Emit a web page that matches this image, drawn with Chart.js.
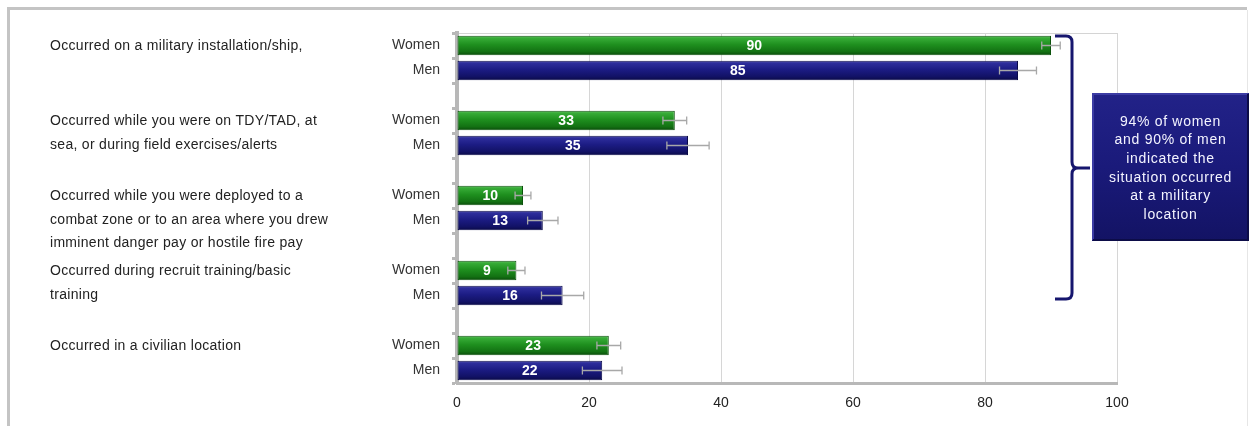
<!DOCTYPE html>
<html>
<head>
<meta charset="utf-8">
<script src="https://cdn.jsdelivr.net/npm/chart.js@4"></script>
<style>
  body { margin: 0; background: #fff; }
  canvas { display: block; }
</style>
</head>
<body>
<canvas id="barChart" width="1250" height="426"></canvas>
<script>
// survey data
const categories = [
  ['Occurred on a military installation/ship,'],
  ['Occurred while you were on TDY/TAD, at', 'sea, or during field exercises/alerts'],
  ['Occurred while you were deployed to a', 'combat zone or to an area where you drew', 'imminent danger pay or hostile fire pay'],
  ['Occurred during recruit training/basic', 'training'],
  ['Occurred in a civilian location']
];
const women = [90, 33, 10, 9, 23];
const men = [85, 35, 13, 16, 22];
const womenErr = [1.4, 1.8, 1.2, 1.3, 1.8];
const menErr = [2.8, 3.2, 2.3, 3.2, 3.0];
const noteLines = ['94% of women', 'and 90% of men', 'indicated the', 'situation occurred', 'at a military', 'location'];

const FONT = 'Liberation Sans, Arial, sans-serif';

// 14 rows: Women, Men, blank, Women, Men, blank ...
const rowLabels = [];
const womenRows = [];
const menRows = [];
const errRows = [];
categories.forEach(function (c, i) {
  if (i > 0) { rowLabels.push(''); womenRows.push(null); menRows.push(null); errRows.push(null); }
  rowLabels.push('Women'); womenRows.push(women[i]); menRows.push(null); errRows.push(womenErr[i]);
  rowLabels.push('Men'); womenRows.push(null); menRows.push(men[i]); errRows.push(menErr[i]);
});

function barGradient(stops, fallback) {
  return function (ctx) {
    const chart = ctx.chart;
    if (!chart.chartArea || !chart.scales.y) return fallback;
    const y = chart.scales.y.getPixelForValue(ctx.dataIndex);
    const g = chart.ctx.createLinearGradient(0, y - 10, 0, y + 10);
    stops.forEach(function (s) { g.addColorStop(s[0], s[1]); });
    return g;
  };
}

const greenFill = barGradient([[0, '#7fcc7f'], [0.12, '#38ad38'], [0.45, '#1f901f'], [0.8, '#137213'], [1, '#0a4a0a']], '#1f8f1f');
const navyFill = barGradient([[0, '#7070bb'], [0.12, '#2e2e9c'], [0.45, '#1c1c84'], [0.8, '#121266'], [1, '#0a0a45']], '#1c1c82');

const decorations = {
  id: 'decorations',
  beforeDraw(chart) {
    const c = chart.ctx;
    c.save();
    c.fillStyle = '#fff';
    c.fillRect(0, 0, chart.width, chart.height);
    // outer frame: heavy top and left, faint right
    c.strokeStyle = '#c4c4c4';
    c.lineWidth = 3;
    c.beginPath();
    c.moveTo(8.5, chart.height);
    c.lineTo(8.5, 8.5);
    c.lineTo(1247, 8.5);
    c.stroke();
    c.strokeStyle = '#e6e6e6';
    c.lineWidth = 1;
    c.beginPath();
    c.moveTo(1247.5, 10);
    c.lineTo(1247.5, chart.height);
    c.stroke();
    // top edge of plot area
    const a = chart.chartArea;
    c.strokeStyle = '#d4d4d4';
    c.beginPath();
    c.moveTo(a.left, a.top + 0.5);
    c.lineTo(a.right, a.top + 0.5);
    c.stroke();
    c.restore();
  },
  afterDatasetsDraw(chart) {
    const c = chart.ctx;
    const x = chart.scales.x;
    const y = chart.scales.y;
    c.save();
    // error bars
    c.strokeStyle = '#a8a8a8';
    c.lineWidth = 1.3;
    errRows.forEach(function (e, i) {
      if (e === null) return;
      const v = womenRows[i] !== null ? womenRows[i] : menRows[i];
      const py = y.getPixelForValue(i);
      const x1 = x.getPixelForValue(v - e);
      const x2 = x.getPixelForValue(v + e);
      c.beginPath();
      c.moveTo(x1, py); c.lineTo(x2, py);
      c.moveTo(x1, py - 4); c.lineTo(x1, py + 4);
      c.moveTo(x2, py - 4); c.lineTo(x2, py + 4);
      c.stroke();
    });
    // value labels
    c.fillStyle = '#fff';
    c.font = 'bold 14px ' + FONT;
    c.textAlign = 'center';
    c.textBaseline = 'middle';
    chart.data.datasets.forEach(function (ds, di) {
      chart.getDatasetMeta(di).data.forEach(function (bar, i) {
        if (ds.data[i] === null) return;
        c.fillText(String(ds.data[i]), (bar.x + bar.base) / 2, bar.y + 1);
      });
    });
    c.restore();
  },
  afterDraw(chart) {
    const c = chart.ctx;
    const y = chart.scales.y;
    c.save();
    // category text on the left
    c.fillStyle = '#222';
    c.font = '14px ' + FONT;
    c.letterSpacing = '0.3px';
    c.textAlign = 'left';
    c.textBaseline = 'middle';
    let row = 0;
    categories.forEach(function (lines) {
      const top = y.getPixelForValue(row);
      lines.forEach(function (t, k) {
        c.fillText(t, 50, top + 1 + k * 23.5);
      });
      row += 3;
    });
    c.letterSpacing = '0px';
    // brace
    c.strokeStyle = '#16166e';
    c.lineWidth = 3;
    c.beginPath();
    c.moveTo(1055, 36);
    c.lineTo(1066, 36);
    c.quadraticCurveTo(1072, 36, 1072, 42);
    c.lineTo(1072, 162);
    c.quadraticCurveTo(1072, 168, 1078, 168);
    c.lineTo(1090, 168);
    c.moveTo(1078, 168);
    c.quadraticCurveTo(1072, 168, 1072, 174);
    c.lineTo(1072, 293);
    c.quadraticCurveTo(1072, 299, 1066, 299);
    c.lineTo(1055, 299);
    c.stroke();
    // note box
    const bx = 1092, by = 93, bw = 157, bh = 148;
    const g = c.createLinearGradient(0, by, 0, by + bh);
    g.addColorStop(0, '#222288');
    g.addColorStop(0.5, '#1a1a7a');
    g.addColorStop(1, '#131364');
    c.fillStyle = g;
    c.fillRect(bx, by, bw, bh);
    c.strokeStyle = '#3c3ca4';
    c.lineWidth = 2;
    c.beginPath();
    c.moveTo(bx + 1, by + bh - 1); c.lineTo(bx + 1, by + 1); c.lineTo(bx + bw - 1, by + 1);
    c.stroke();
    c.strokeStyle = '#0c0c48';
    c.beginPath();
    c.moveTo(bx + bw - 1, by + 1); c.lineTo(bx + bw - 1, by + bh - 1); c.lineTo(bx + 1, by + bh - 1);
    c.stroke();
    c.fillStyle = '#f4f4ff';
    c.font = '14px ' + FONT;
    c.letterSpacing = '0.7px';
    c.textAlign = 'center';
    c.textBaseline = 'middle';
    noteLines.forEach(function (t, k) {
      c.fillText(t, bx + bw / 2, 122 + k * 18.6);
    });
    c.restore();
  }
};

new Chart(document.getElementById('barChart'), {
  type: 'bar',
  data: {
    labels: rowLabels,
    datasets: [
      {
        label: 'Women',
        data: womenRows,
        backgroundColor: greenFill,
        borderColor: '#0b520b',
        borderWidth: 1,
        borderSkipped: false
      },
      {
        label: 'Men',
        data: menRows,
        backgroundColor: navyFill,
        borderColor: '#0a0a4a',
        borderWidth: 1,
        borderSkipped: false
      }
    ]
  },
  options: {
    indexAxis: 'y',
    responsive: false,
    animation: false,
    grouped: false,
    categoryPercentage: 1,
    barPercentage: 0.78,
    layout: { padding: { top: 33, right: 133, left: 0, bottom: 0 } },
    plugins: {
      legend: { display: false },
      tooltip: { enabled: false }
    },
    scales: {
      x: {
        min: 0,
        max: 100,
        ticks: {
          stepSize: 20,
          color: '#222',
          font: { family: FONT, size: 14 },
          padding: 12
        },
        grid: { color: '#d6d6d6', drawTicks: false },
        border: { color: '#b8b8b8', width: 3 },
        afterFit(axis) { axis.height = 43; }
      },
      y: {
        ticks: {
          color: '#333',
          font: { family: FONT, size: 14 },
          padding: 12
        },
        grid: {
          offset: true,
          drawOnChartArea: false,
          drawTicks: true,
          tickLength: 5,
          tickColor: '#b8b8b8',
          tickWidth: 3
        },
        border: { color: '#b8b8b8', width: 4 },
        afterFit(axis) { axis.width = 457; }
      }
    }
  },
  plugins: [decorations]
});
</script>
</body>
</html>
